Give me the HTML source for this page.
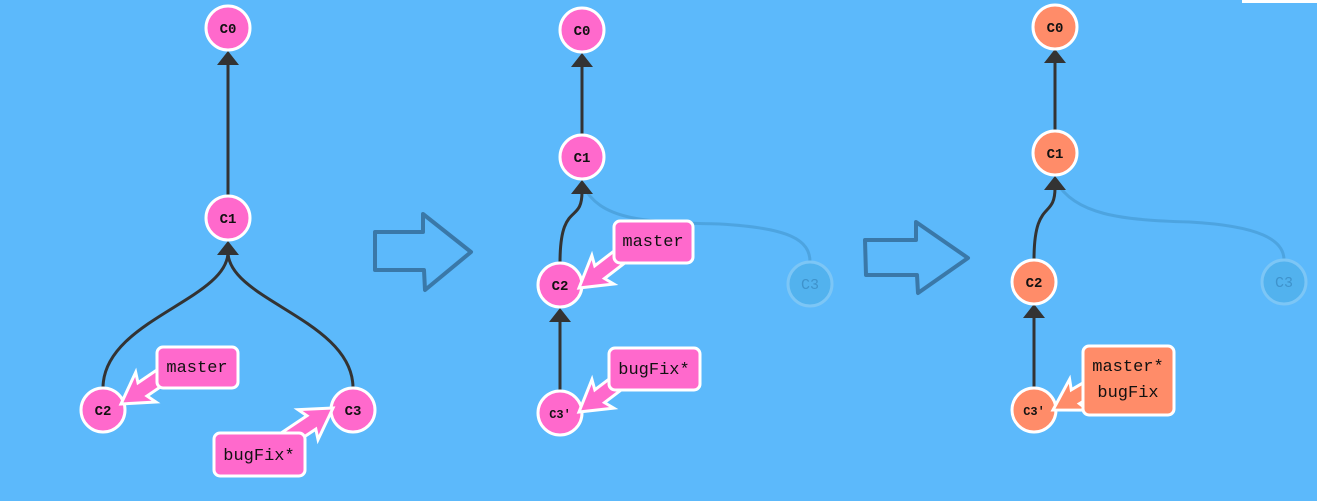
<!DOCTYPE html>
<html><head><style>
html,body{margin:0;padding:0;background:#5cb9fb;}
svg{display:block;}
text{font-family:"Liberation Mono",monospace;}
</style></head><body>
<svg width="1317" height="501" viewBox="0 0 1317 501">
<rect width="1317" height="501" fill="#5cb9fb"/>
<rect x="1242" y="0" width="75" height="3" fill="#fff"/>
<defs>
<polygon id="ar" points="0,0 -30,-18 -26,-8 -62,-8 -62,8 -26,8 -30,18"/>
</defs>
<g fill="none" stroke="#3a78a8" stroke-width="4" stroke-linejoin="round">
<polygon points="375,232 423,232 423,214 471,252 425,290 424,270 375,270"/>
<polygon points="865,240 916,240 916,222 968,258 918,293 917,275 866,275"/>
</g>
<g fill="none" stroke="#4a9fd9" stroke-width="3" opacity="0.8">
<path d="M582,184 C600,220 640,222 720,224 C790,228 810,240 810,262"/>
<path d="M1055,180 C1075,215 1120,220 1190,222 C1260,226 1284,240 1284,260"/>
</g>
<g fill="none" stroke="#333" stroke-width="3">
<path d="M228,196 L228,62"/>
<path d="M103,388 C103,320 228,300 228,252"/>
<path d="M353,388 C353,320 228,300 228,252"/>
<path d="M582,135 L582,64"/>
<path d="M560,263 C560,200 582,225 582,192"/>
<path d="M560,391 L560,320"/>
<path d="M1055,131 L1055,60"/>
<path d="M1034,260 C1034,198 1055,220 1055,188"/>
<path d="M1034,388 L1034,316"/>
</g>
<g fill="#333">
<polygon points="228,51 217,65 239,65"/>
<polygon points="228,241 217,255 239,255"/>
<polygon points="582,53 571,67 593,67"/>
<polygon points="582,180 571,194 593,194"/>
<polygon points="560,308 549,322 571,322"/>
<polygon points="1055,49 1044,63 1066,63"/>
<polygon points="1055,176 1044,190 1066,190"/>
<polygon points="1034,304 1023,318 1045,318"/>
</g>
<g fill="#52b2ee" stroke="#7cc6f6" stroke-width="3">
<circle cx="810" cy="284" r="22"/>
<circle cx="1284" cy="282" r="22"/>
</g>
<g fill="#3f93cc" font-size="15" text-anchor="middle">
<text x="810" y="289">C3</text>
<text x="1284" y="287">C3</text>
</g>
<g stroke="#fff" stroke-width="3">
<circle cx="228" cy="28" r="22" fill="#ff69cc"/>
<circle cx="228" cy="218" r="22" fill="#ff69cc"/>
<circle cx="103" cy="410" r="22" fill="#ff69cc"/>
<circle cx="353" cy="410" r="22" fill="#ff69cc"/>
<circle cx="582" cy="30" r="22" fill="#ff69cc"/>
<circle cx="582" cy="157" r="22" fill="#ff69cc"/>
<circle cx="560" cy="285" r="22" fill="#ff69cc"/>
<circle cx="560" cy="413" r="22" fill="#ff69cc"/>
<circle cx="1055" cy="27" r="22" fill="#ff8c69"/>
<circle cx="1055" cy="153" r="22" fill="#ff8c69"/>
<circle cx="1034" cy="282" r="22" fill="#ff8c69"/>
<circle cx="1034" cy="410" r="22" fill="#ff8c69"/>
</g>
<g fill="#111" font-size="14" font-weight="bold" text-anchor="middle">
<text x="228" y="33">C0</text>
<text x="228" y="223">C1</text>
<text x="103" y="415">C2</text>
<text x="353" y="415">C3</text>
<text x="582" y="35">C0</text>
<text x="582" y="162">C1</text>
<text x="560" y="290">C2</text>
<text x="560" y="418" font-size="12">C3'</text>
<text x="1055" y="32">C0</text>
<text x="1055" y="158">C1</text>
<text x="1034" y="287">C2</text>
<text x="1034" y="415" font-size="12">C3'</text>
</g>
<g stroke="#fff" stroke-width="3" stroke-linejoin="miter">
<use href="#ar" fill="#ff69cc" transform="translate(121,404) rotate(145.8)"/>
<use href="#ar" fill="#ff69cc" transform="translate(333,408) rotate(-33.7)"/>
<use href="#ar" fill="#ff69cc" transform="translate(579,288) rotate(142.5)"/>
<use href="#ar" fill="#ff69cc" transform="translate(579,412) rotate(142.7)"/>
<use href="#ar" fill="#ff8c69" transform="translate(1053,410) rotate(149.3)"/>
</g>
<g stroke="#fff" stroke-width="3">
<rect x="157" y="347" width="81" height="41" rx="6" fill="#ff69cc"/>
<rect x="214" y="433" width="91" height="43" rx="6" fill="#ff69cc"/>
<rect x="614" y="221" width="79" height="42" rx="6" fill="#ff69cc"/>
<rect x="609" y="348" width="91" height="42" rx="6" fill="#ff69cc"/>
<rect x="1083" y="346" width="91" height="69" rx="6" fill="#ff8c69"/>
</g>
<g fill="#111" font-size="17" text-anchor="middle">
<text x="197" y="372">master</text>
<text x="259" y="460">bugFix*</text>
<text x="653" y="246">master</text>
<text x="654" y="374">bugFix*</text>
<text x="1128" y="371">master*</text>
<text x="1128" y="397">bugFix</text>
</g>
</svg>
</body></html>
